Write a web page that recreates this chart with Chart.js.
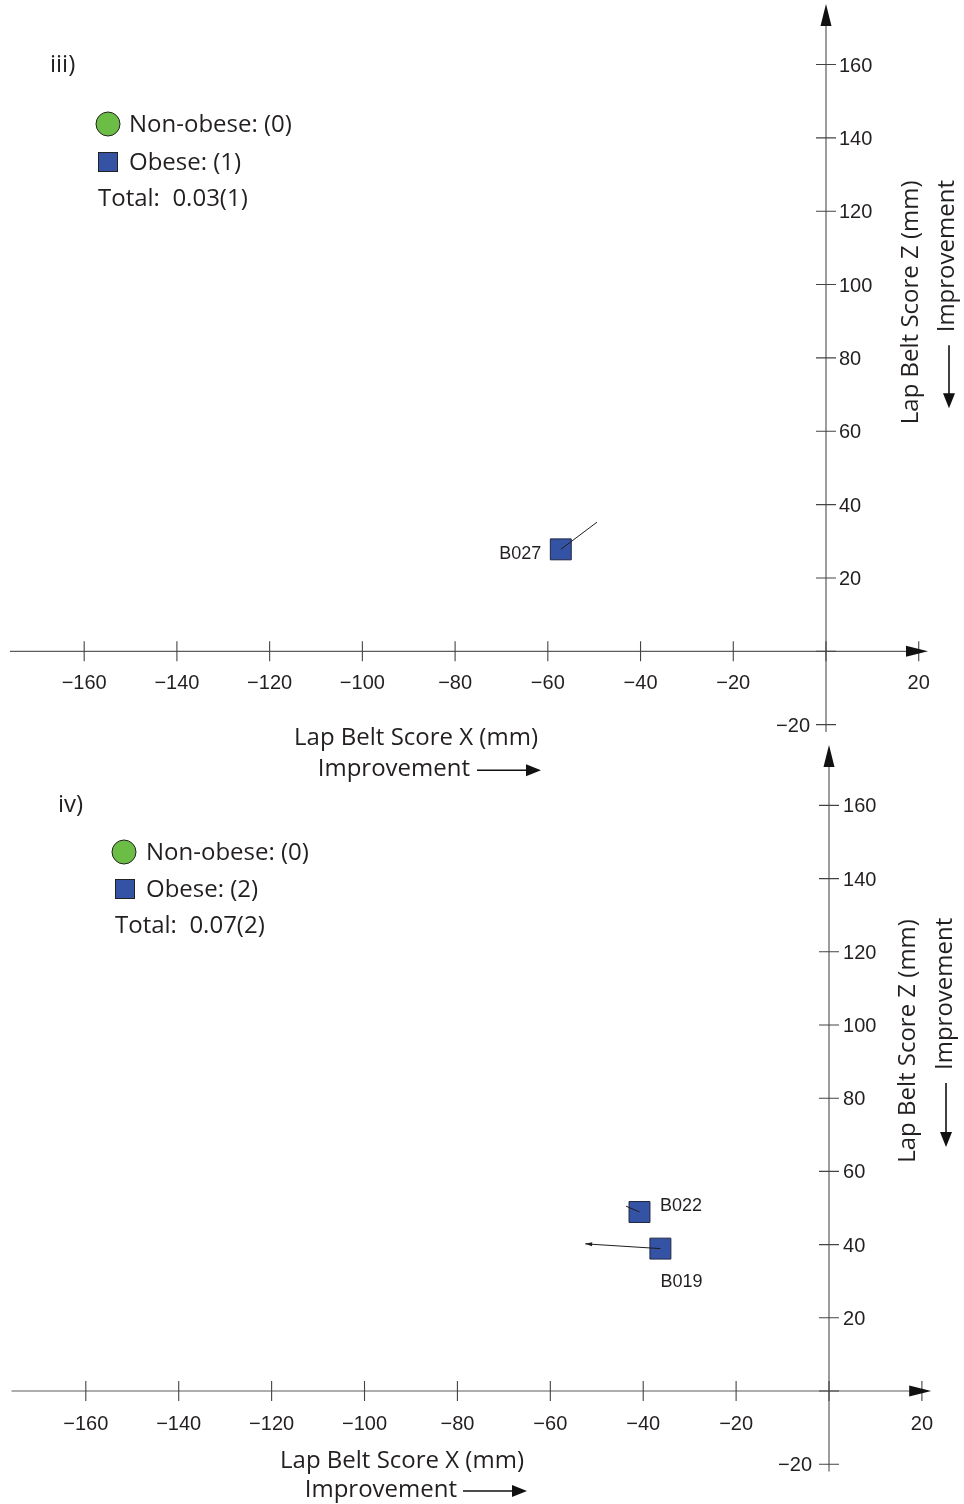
<!DOCTYPE html>
<html>
<head>
<meta charset="utf-8">
<title>Lap belt score change</title>
<script src="https://cdn.jsdelivr.net/npm/chart.js@4/dist/chart.umd.min.js"></script>
<style>
  html, body { margin: 0; padding: 0; background: #fff; }
  #wrap { position: relative; width: 964px; height: 1504px; overflow: hidden; }
  #wrap canvas { position: absolute; left: 0; }
</style>
</head>
<body>
<div id="wrap">
  <canvas id="panelIii" width="964" height="790" style="top:0px"></canvas>
  <canvas id="panelIv" width="964" height="764" style="top:740px"></canvas>
</div>
<script>
// ---- axis ticks (mm) ----
const xTickValues = [-160, -140, -120, -100, -80, -60, -40, -20, 20];
const xTickLabels = ['\u2212160', '\u2212140', '\u2212120', '\u2212100', '\u221280', '\u221260', '\u221240', '\u221220', '20'];
const zTickValues = [160, 140, 120, 100, 80, 60, 40, 20, -20];
const zTickLabels = ['160', '140', '120', '100', '80', '60', '40', '20', '\u221220'];

// ---- panel iii: obese occupants, score before -> after ----
const iiiSubjects = ['B027'];
const iiiStartX = [-57.2];
const iiiStartZ = [27.8];
const iiiEndX = [-49.4];
const iiiEndZ = [35.2];
const iiiNonObeseX = [];
const iiiNonObeseZ = [];
const iiiLegend = ['Non-obese: (0)', 'Obese: (1)', 'Total:  0.03(1)'];

// ---- panel iv ----
const ivSubjects = ['B022', 'B019'];
const ivStartX = [-40.8, -36.3];
const ivStartZ = [48.9, 38.9];
const ivEndX = [-43.7, -52.5];
const ivEndZ = [50.5, 40.2];
const ivNonObeseX = [];
const ivNonObeseZ = [];
const ivLegend = ['Non-obese: (0)', 'Obese: (2)', 'Total:  0.07(2)'];

const TEXT = '#231f20';
const TICK_FONT = '20px "Liberation Sans", Arial, sans-serif';
const ID_FONT = '18px "Liberation Sans", Arial, sans-serif';
const TITLE_FONT = '24px "Open Sans", sans-serif';
const LEGEND_FONT = '24px "Open Sans", sans-serif';
const SQUARE_FILL = '#3553a4';
const CIRCLE_FILL = '#6cbd45';

function arrowHead(ctx, tx, ty, angle, len, half) {
  ctx.save();
  ctx.translate(tx, ty);
  ctx.rotate(angle);
  ctx.beginPath();
  ctx.moveTo(0, 0);
  ctx.lineTo(-len, -half);
  ctx.lineTo(-len, half);
  ctx.closePath();
  ctx.fill();
  ctx.restore();
}

function decorPlugin(cfg) {
  return {
    id: 'panelDecor',
    beforeDatasetsDraw(chart) {
      const ctx = chart.ctx;
      const xs = chart.scales.x, ys = chart.scales.y;
      const x0 = xs.getPixelForValue(0), y0 = ys.getPixelForValue(0);
      const left = xs.getPixelForValue(xs.min), right = xs.getPixelForValue(xs.max);
      const top = ys.getPixelForValue(ys.max), bottom = ys.getPixelForValue(ys.min);
      ctx.save();
      // axis lines
      ctx.strokeStyle = '#5c5c5c';
      ctx.lineWidth = 1.2;
      ctx.beginPath();
      ctx.moveTo(left, y0); ctx.lineTo(right - 12, y0);
      ctx.moveTo(x0, bottom); ctx.lineTo(x0, top + 12);
      ctx.stroke();
      // tick marks crossing the axes
      ctx.strokeStyle = '#444';
      ctx.lineWidth = 1.1;
      ctx.beginPath();
      xTickValues.concat([0]).forEach(v => {
        const px = xs.getPixelForValue(v);
        ctx.moveTo(px, y0 - 10); ctx.lineTo(px, y0 + 10);
      });
      zTickValues.concat([0]).forEach(v => {
        const py = ys.getPixelForValue(v);
        ctx.moveTo(x0 - 10, py); ctx.lineTo(x0 + 10, py);
      });
      ctx.stroke();
      // arrow heads
      ctx.fillStyle = '#111';
      arrowHead(ctx, right, y0, 0, 22, 5.5);
      arrowHead(ctx, x0, top, -Math.PI / 2, 22, 5.5);
      // tick labels
      ctx.fillStyle = TEXT;
      ctx.font = TICK_FONT;
      ctx.textBaseline = 'middle';
      ctx.textAlign = 'center';
      xTickValues.forEach((v, i) => {
        ctx.fillText(xTickLabels[i], xs.getPixelForValue(v), y0 + cfg.xLabelGap);
      });
      zTickValues.forEach((v, i) => {
        const py = ys.getPixelForValue(v) + 1.5;
        if (v < 0) {
          ctx.textAlign = 'right';
          ctx.fillText(zTickLabels[i], x0 - cfg.zLabelGapLeft, py);
        } else {
          ctx.textAlign = 'left';
          ctx.fillText(zTickLabels[i], x0 + cfg.zLabelGap, py);
        }
      });
      ctx.restore();
    },
    afterDatasetsDraw(chart) {
      const ctx = chart.ctx;
      const xs = chart.scales.x, ys = chart.scales.y;
      const x0 = xs.getPixelForValue(0), y0 = ys.getPixelForValue(0);
      ctx.save();
      // heads on the change vectors
      ctx.fillStyle = '#1e1e1e';
      cfg.subjects.forEach((s, i) => {
        if (!cfg.vectorHead[i]) return;
        const sx = xs.getPixelForValue(cfg.startX[i]), sy = ys.getPixelForValue(cfg.startZ[i]);
        const ex = xs.getPixelForValue(cfg.endX[i]), ey = ys.getPixelForValue(cfg.endZ[i]);
        arrowHead(ctx, ex, ey, Math.atan2(ey - sy, ex - sx), 7, 2);
      });
      // subject ids
      ctx.fillStyle = TEXT;
      ctx.font = ID_FONT;
      ctx.textBaseline = 'middle';
      cfg.subjects.forEach((s, i) => {
        const pl = cfg.idPlacement[i];
        ctx.textAlign = pl.align;
        ctx.fillText(s, xs.getPixelForValue(cfg.startX[i]) + pl.dx, ys.getPixelForValue(cfg.startZ[i]) + pl.dy);
      });
      // horizontal axis title
      const t = cfg.titles;
      ctx.font = TITLE_FONT;
      ctx.textAlign = 'center';
      ctx.fillText('Lap Belt Score X (mm)', x0 + t.xTitleDx, y0 + t.xTitleDy);
      ctx.textAlign = 'right';
      ctx.fillText('Improvement', x0 + t.xImpRight, y0 + t.xImpDy);
      ctx.strokeStyle = '#111';
      ctx.fillStyle = '#111';
      ctx.lineWidth = 1.6;
      ctx.beginPath();
      ctx.moveTo(x0 + t.xArrowFrom, y0 + t.xImpDy + 1);
      ctx.lineTo(x0 + t.xArrowTo - 10, y0 + t.xImpDy + 1);
      ctx.stroke();
      arrowHead(ctx, x0 + t.xArrowTo, y0 + t.xImpDy + 1, 0, 15, 6);
      // vertical axis title (reads bottom to top)
      ctx.fillStyle = TEXT;
      ctx.save();
      ctx.translate(x0 + t.zTitleDx, y0 + t.zTitleDy);
      ctx.rotate(-Math.PI / 2);
      ctx.textAlign = 'center';
      ctx.fillText('Lap Belt Score Z (mm)', 0, 0);
      ctx.restore();
      ctx.save();
      ctx.translate(x0 + t.zImpDx, y0 + t.zImpStart);
      ctx.rotate(-Math.PI / 2);
      ctx.textAlign = 'left';
      ctx.fillText('Improvement', 0, 0);
      ctx.restore();
      ctx.fillStyle = '#111';
      ctx.beginPath();
      ctx.moveTo(x0 + t.zArrowX, y0 + t.zArrowFrom);
      ctx.lineTo(x0 + t.zArrowX, y0 + t.zArrowTo - 10);
      ctx.stroke();
      arrowHead(ctx, x0 + t.zArrowX, y0 + t.zArrowTo, Math.PI / 2, 15, 6);
      // panel tag and key
      const k = cfg.key;
      ctx.fillStyle = TEXT;
      ctx.font = LEGEND_FONT;
      ctx.textAlign = 'left';
      ctx.textBaseline = 'middle';
      ctx.fillText(cfg.tag, k.tagX, k.tagY);
      ctx.beginPath();
      ctx.arc(k.circleX, k.circleY, 12, 0, Math.PI * 2);
      ctx.fillStyle = CIRCLE_FILL;
      ctx.fill();
      ctx.strokeStyle = '#222';
      ctx.lineWidth = 1;
      ctx.stroke();
      ctx.fillStyle = SQUARE_FILL;
      ctx.fillRect(k.squareX, k.squareY, 20, 20);
      ctx.strokeRect(k.squareX + 0.5, k.squareY + 0.5, 19, 19);
      ctx.fillStyle = TEXT;
      ctx.fillText(cfg.legend[0], k.textX, k.circleY + 1);
      ctx.fillText(cfg.legend[1], k.textX, k.squareY + 11);
      ctx.fillText(cfg.legend[2], k.squareX, k.totalY + 1);
      ctx.restore();
    }
  };
}

function buildPanel(canvasId, cfg) {
  const vectorSets = cfg.subjects.map((s, i) => ({
    label: s + ' change',
    data: [{ x: cfg.startX[i], y: cfg.startZ[i] }, { x: cfg.endX[i], y: cfg.endZ[i] }],
    showLine: true,
    borderColor: '#1e1e1e',
    borderWidth: 1,
    pointRadius: 0,
    order: 0
  }));
  const obese = {
    label: 'Obese',
    data: cfg.startX.map((x, i) => ({ x: x, y: cfg.startZ[i] })),
    pointStyle: 'rect',
    pointRadius: 14.8,
    backgroundColor: SQUARE_FILL,
    borderColor: '#1f2744',
    borderWidth: 1,
    order: 1
  };
  const nonObese = {
    label: 'Non-obese',
    data: cfg.nonObeseX.map((x, i) => ({ x: x, y: cfg.nonObeseZ[i] })),
    pointStyle: 'circle',
    pointRadius: 12,
    backgroundColor: CIRCLE_FILL,
    borderColor: '#222',
    borderWidth: 1,
    order: 2
  };
  return new Chart(document.getElementById(canvasId), {
    type: 'scatter',
    data: { datasets: [nonObese, obese].concat(vectorSets) },
    options: {
      responsive: false,
      animation: false,
      devicePixelRatio: 1,
      layout: { padding: cfg.padding, autoPadding: false },
      plugins: { legend: { display: false }, tooltip: { enabled: false } },
      scales: {
        x: { type: 'linear', min: -176, max: 22, display: false },
        y: { type: 'linear', min: -22, max: 176.5, display: false }
      }
    },
    plugins: [decorPlugin(cfg)]
  });
}

buildPanel('panelIii', {
  tag: 'iii)',
  subjects: iiiSubjects, startX: iiiStartX, startZ: iiiStartZ, endX: iiiEndX, endZ: iiiEndZ,
  nonObeseX: iiiNonObeseX, nonObeseZ: iiiNonObeseZ,
  legend: iiiLegend,
  vectorHead: [false],
  idPlacement: [{ dx: -19.5, dy: 4.5, align: 'right' }],
  padding: { left: 10, right: 36, top: 4, bottom: 58 },
  xLabelGap: 32.5, zLabelGap: 13, zLabelGapLeft: 16,
  titles: {
    xTitleDx: -410, xTitleDy: 87, xImpRight: -356, xImpDy: 118, xArrowFrom: -349, xArrowTo: -285,
    zTitleDx: 85, zTitleDy: -349, zImpDx: 121, zImpStart: -319, zArrowX: 123, zArrowFrom: -306, zArrowTo: -243
  },
  key: { tagX: 50, tagY: 65, circleX: 108, circleY: 124, textX: 129, squareX: 98, squareY: 152, totalY: 198 }
});

buildPanel('panelIv', {
  tag: 'iv)',
  subjects: ivSubjects, startX: ivStartX, startZ: ivStartZ, endX: ivEndX, endZ: ivEndZ,
  nonObeseX: ivNonObeseX, nonObeseZ: ivNonObeseZ,
  legend: ivLegend,
  vectorHead: [false, true],
  idPlacement: [{ dx: 20.5, dy: -6, align: 'left' }, { dx: 0, dy: 33, align: 'left' }],
  padding: { left: 11.5, right: 32.8, top: 5, bottom: 32.5 },
  xLabelGap: 33.5, zLabelGap: 14, zLabelGapLeft: 17,
  titles: {
    xTitleDx: -427, xTitleDy: 70, xImpRight: -372, xImpDy: 99, xArrowFrom: -366, xArrowTo: -302,
    zTitleDx: 79, zTitleDy: -350, zImpDx: 116, zImpStart: -321, zArrowX: 117, zArrowFrom: -308, zArrowTo: -244
  },
  key: { tagX: 58, tagY: 65, circleX: 124, circleY: 112, textX: 146, squareX: 115, squareY: 139, totalY: 185 }
});
</script>
</body>
</html>
